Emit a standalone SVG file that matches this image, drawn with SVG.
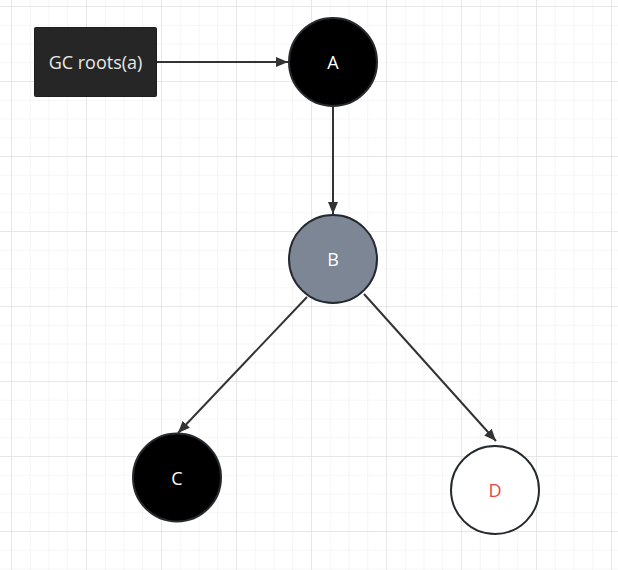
<svg xmlns="http://www.w3.org/2000/svg" width="618" height="570" viewBox="0 0 618 570">
<defs>
<pattern id="minor" x="11" y="6" width="18.75" height="18.75" patternUnits="userSpaceOnUse">
<path d="M0 0H18.75M0 0V18.75" fill="none" stroke="#eeeeee" stroke-width="1.2"/>
</pattern>
<pattern id="major" x="11" y="6" width="75" height="75" patternUnits="userSpaceOnUse">
<path d="M0 0H75M0 0V75" fill="none" stroke="#e2e2e2" stroke-width="1.5"/>
</pattern>
<marker id="arr" viewBox="0 0 12 10" refX="12" refY="5" markerWidth="12" markerHeight="10" markerUnits="userSpaceOnUse" orient="auto">
<path d="M0 0L12 5L0 10Z" fill="#333"/>
</marker>
</defs>
<style>
.lbl{font-family:"Open Sans","Noto Sans",sans-serif;font-size:18px;text-anchor:middle;dominant-baseline:central}
.node{stroke:#252a2f;stroke-width:2}
.edge{stroke:#333;stroke-width:2;fill:none;marker-end:url(#arr)}
</style>
<rect width="618" height="570" fill="#fff"/>
<rect width="618" height="570" fill="url(#minor)"/>
<rect width="618" height="570" fill="url(#major)"/>
<g id="connectors">
<path class="edge" d="M157 62H288"/>
<path class="edge" d="M333 106V214"/>
<path class="edge" d="M307 297L178 433"/>
<path class="edge" d="M364 294L496 441"/>
</g>
<g id="gcroots">
<rect x="34.5" y="27.5" width="122" height="69" rx="1" fill="#262626" stroke="#1e1e1e"/>
<text class="lbl" x="95.5" y="61.5" fill="#e8e8e8">GC roots(a)</text>
</g>
<g id="A">
<circle class="node" cx="333" cy="62" r="44" fill="#000"/>
<text class="lbl" x="333" y="62" fill="#fff">A</text>
</g>
<g id="B">
<circle class="node" cx="333" cy="259" r="44" fill="#7c8695"/>
<text class="lbl" x="333" y="259" fill="#fff">B</text>
</g>
<g id="C">
<circle class="node" cx="177" cy="477.5" r="44" fill="#000"/>
<text class="lbl" x="177" y="477.5" fill="#fff">C</text>
</g>
<g id="D">
<circle class="node" cx="495" cy="490" r="44" fill="#fff"/>
<text class="lbl" x="495" y="490" fill="#e84545">D</text>
</g>
</svg>
